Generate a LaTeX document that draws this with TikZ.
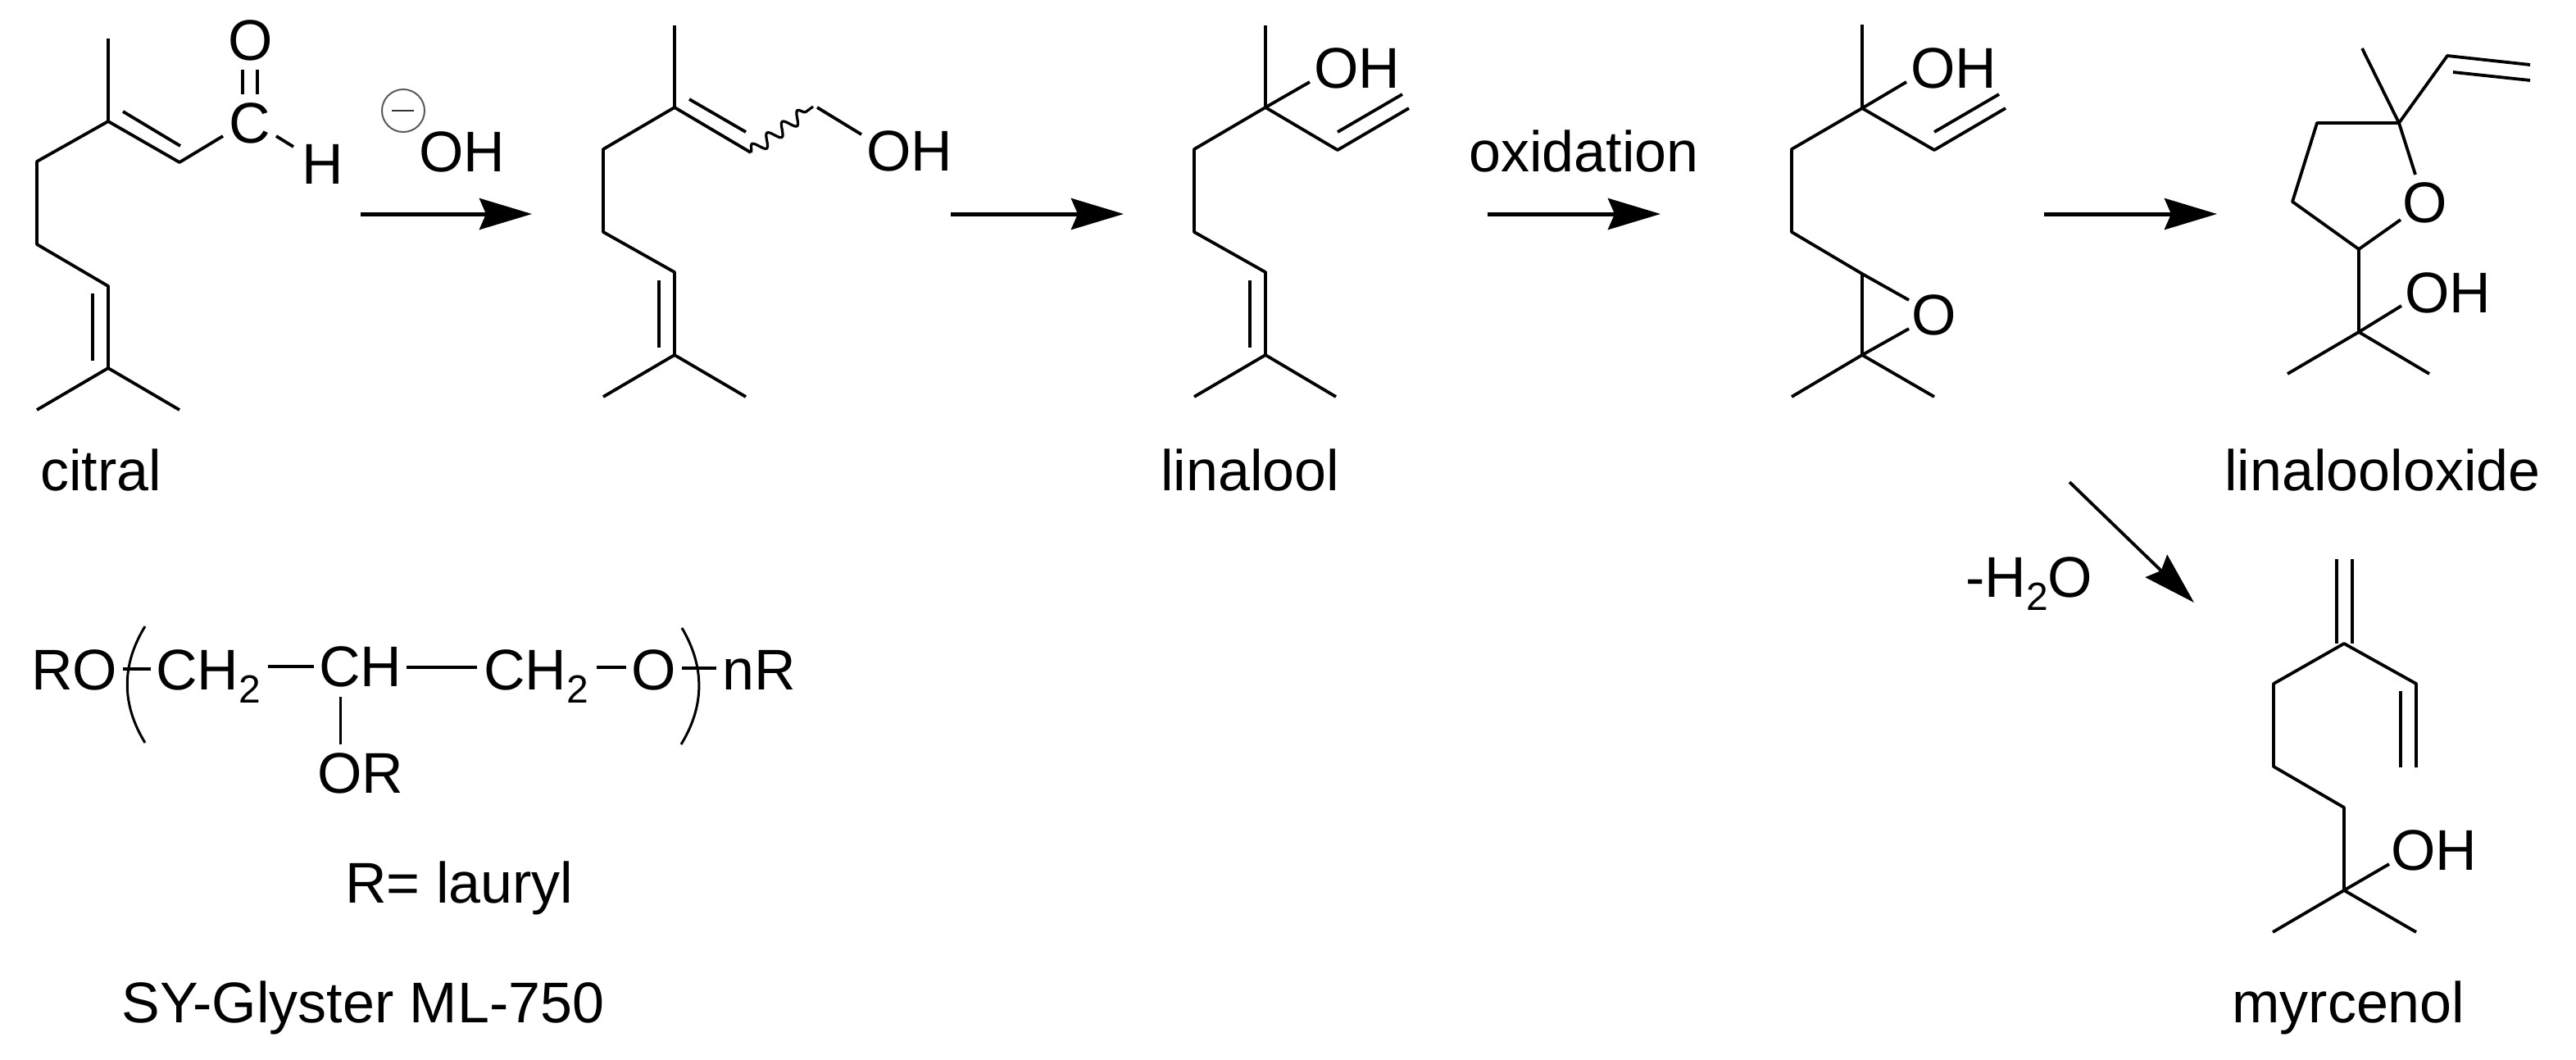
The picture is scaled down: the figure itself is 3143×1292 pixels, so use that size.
\documentclass[tikz,border=0pt]{standalone}
\usepackage{fontspec}
\setmainfont{Liberation Sans}
\usetikzlibrary{arrows.meta,decorations.pathmorphing}
\newcommand{\subtwo}{\raisebox{-8pt}{\fontsize{24}{24}\selectfont 2}}
\begin{document}
\begin{tikzpicture}[x=0.5pt,y=-0.5pt]
\tikzstyle{bond}=[line width=1.9pt,line join=round]
\tikzstyle{txt}=[inner sep=0pt,anchor=base west,font=\fontsize{35}{40}\selectfont]
\tikzstyle{react}=[line width=2.5pt,-{Stealth[length=32pt,width=19pt,inset=4pt]}]
\useasboundingbox (0,0) rectangle (3143,1292);
\foreach \n/\x/\y in {cit1/132/47,cit2/132/148,cit3/219/198,cit4/272/166,cit5/45/197,cit6/45/298,
    cit7/132/349,cit8/132/449,cit9/45/500,cit10/219/500,cit11/150/136,cit12/220/178,cit13/113/358,
    cit14/113/440,cit15/296/85,cit16/296/115,cit17/314/85,cit18/314/115,cit19/337/166,cit20/358/179}
  \coordinate (\n) at (\x,\y);
\node[txt] (citO) at (278,73) {O};
\node[txt] (citC) at (279,174) {C};
\node[txt] (citH) at (368,224) {H};
\draw[bond] (cit1) -- (cit2) -- (cit3) -- (cit4);
\draw[bond] (cit2) -- (cit5) -- (cit6) -- (cit7) -- (cit8) -- (cit9);
\draw[bond] (cit8) -- (cit10);
\draw[bond] (cit11) -- (cit12);
\draw[bond] (cit13) -- (cit14);
\draw[bond] (cit15) -- (cit16);
\draw[bond] (cit17) -- (cit18);
\draw[bond] (cit19) -- (cit20);
\node[txt] (citral) at (49,598) {citral};
\node[circle,draw=black!65,line width=1pt,minimum size=26pt,inner sep=0pt] (minus) at (492,135) {};
\coordinate (minus1) at (478,135);
\coordinate (minus2) at (505,135);
\draw[line width=1pt,black!80] (minus1) -- (minus2);
\node[txt] (hydroxide) at (511,209) {OH};
\coordinate (r1a) at (440,261);
\coordinate (r1b) at (649,261);
\draw[react] (r1a) -- (r1b);
\foreach \n/\x/\y in {eno1/823/31,eno2/823/131,eno3/916/186,eno4/992/130,eno5/997/131,eno6/1051/164,
    eno7/736/182,eno8/736/283,eno9/823/332,eno10/823/433,eno11/736/484,eno12/910/484,
    eno13/841/121,eno14/910/161,eno15/804/342,eno16/804/424}
  \coordinate (\n) at (\x,\y);
\draw[bond] (eno1) -- (eno2) -- (eno3);
\draw[bond] (eno2) -- (eno7) -- (eno8) -- (eno9) -- (eno10) -- (eno11);
\draw[bond] (eno10) -- (eno12);
\draw[bond] (eno13) -- (eno14);
\draw[bond] (eno15) -- (eno16);
\draw[bond] (eno5) -- (eno6);
\draw[line width=1.6pt,decorate,decoration={snake,amplitude=3.8pt,segment length=11.5pt}] (eno3) -- (eno4);
\node[txt] (enoOH) at (1057,208) {OH};
\coordinate (r2a) at (1160,261);
\coordinate (r2b) at (1371,261);
\draw[react] (r2a) -- (r2b);
\foreach \n/\x/\y in {lin1/1544/31,lin2/1544/131,lin3/1632/183,lin4/1719/132,lin5/1598/100,lin6/1457/182,
    lin7/1457/283,lin8/1544/332,lin9/1544/433,lin10/1457/484,lin11/1630/484,lin12/1632/161,lin13/1711/115,
    lin14/1525/342,lin15/1525/424}
  \coordinate (\n) at (\x,\y);
\draw[bond] (lin1) -- (lin2) -- (lin3) -- (lin4);
\draw[bond] (lin2) -- (lin5);
\draw[bond] (lin2) -- (lin6) -- (lin7) -- (lin8) -- (lin9) -- (lin10);
\draw[bond] (lin9) -- (lin11);
\draw[bond] (lin12) -- (lin13);
\draw[bond] (lin14) -- (lin15);
\node[txt] (linOH) at (1603,107) {OH};
\node[txt] (linalool) at (1416,598) {linalool};
\node[txt] (oxidation) at (1792,209) {oxidation};
\coordinate (r3a) at (1815,261);
\coordinate (r3b) at (2026,261);
\draw[react] (r3a) -- (r3b);
\foreach \n/\x/\y in {epo1/2272/30,epo2/2272/132,epo3/2360/183,epo4/2447/132,epo5/2326/100,epo6/2186/182,
    epo7/2186/283,epo8/2272/334,epo9/2272/433,epo10/2186/484,epo11/2360/484,epo12/2360/161,epo13/2439/115,
    epo14/2329/366,epo15/2329/401}
  \coordinate (\n) at (\x,\y);
\draw[bond] (epo1) -- (epo2) -- (epo3) -- (epo4);
\draw[bond] (epo2) -- (epo5);
\draw[bond] (epo2) -- (epo6) -- (epo7) -- (epo8) -- (epo9) -- (epo10);
\draw[bond] (epo9) -- (epo11);
\draw[bond] (epo12) -- (epo13);
\draw[bond] (epo8) -- (epo14);
\draw[bond] (epo9) -- (epo15);
\node[txt] (epoOH) at (2331,107) {OH};
\node[txt] (epoO) at (2332,408) {O};
\coordinate (r4a) at (2494,261);
\coordinate (r4b) at (2705,261);
\draw[react] (r4a) -- (r4b);
\foreach \n/\x/\y in {fur1/2927/150,fur2/2882/59,fur3/2986/68,fur4/3087/79,fur5/2993/88,fur6/3087/98,
    fur7/2827/150,fur8/2797/246,fur9/2878/304,fur10/2947/213,fur11/2929/268,fur12/2878/405,fur13/2930/373,
    fur14/2791/456,fur15/2964/456}
  \coordinate (\n) at (\x,\y);
\draw[bond] (fur2) -- (fur1) -- (fur3) -- (fur4);
\draw[bond] (fur5) -- (fur6);
\draw[bond] (fur10) -- (fur1) -- (fur7) -- (fur8) -- (fur9) -- (fur11);
\draw[bond] (fur9) -- (fur12) -- (fur13);
\draw[bond] (fur14) -- (fur12) -- (fur15);
\node[txt] (furO) at (2931,271) {O};
\node[txt] (furOH) at (2934,381) {OH};
\node[txt] (linalooloxide) at (2714,598) {linalooloxide};
\coordinate (r5a) at (2525,588);
\coordinate (r5b) at (2677,735);
\draw[react,line width=1.9pt] (r5a) -- (r5b);
\node[txt] (water) at (2398,728) {-H\subtwo O};
\foreach \n/\x/\y in {myr1/2851/682,myr2/2851/785,myr3/2870/682,myr4/2870/785,myr5/2860/785,myr6/2948/834,
    myr7/2948/936,myr8/2929/843,myr9/2929/936,myr10/2774/834,myr11/2774/935,myr12/2860/985,myr13/2860/1086,
    myr14/2773/1137,myr15/2948/1137,myr16/2915/1054}
  \coordinate (\n) at (\x,\y);
\draw[bond] (myr1) -- (myr2);
\draw[bond] (myr3) -- (myr4);
\draw[bond] (myr7) -- (myr6) -- (myr5) -- (myr10) -- (myr11) -- (myr12) -- (myr13) -- (myr14);
\draw[bond] (myr8) -- (myr9);
\draw[bond] (myr13) -- (myr15);
\draw[bond] (myr13) -- (myr16);
\node[txt] (myrOH) at (2917,1061) {OH};
\node[txt] (myrcenol) at (2723,1247) {myrcenol};
\foreach \n/\x/\y in {pol1/177/764,pol2/177/906,pol3a/148/811,pol3b/148/859,pol4/832/766,pol5/831/908,pol6a/860/813,pol6b/860/861,
    pol7/150/816,pol8/184/816,pol9/327/813,pol10/383/813,pol11/496/814,pol12/582/814,pol13/728/814,
    pol14/764/814,pol15/832/815,pol16/874/815,pol17/415/850,pol18/415/908}
  \coordinate (\n) at (\x,\y);
\draw[line width=1.5pt] (pol1) .. controls (pol3a) and (pol3b) .. (pol2);
\draw[line width=1.5pt] (pol4) .. controls (pol6a) and (pol6b) .. (pol5);
\draw[bond] (pol7) -- (pol8);
\draw[bond] (pol9) -- (pol10);
\draw[bond] (pol11) -- (pol12);
\draw[bond] (pol13) -- (pol14);
\draw[bond] (pol15) -- (pol16);
\draw[line width=1.5pt] (pol17) -- (pol18);
\node[txt] (polRO) at (38,841) {RO};
\node[txt] (polA) at (190,841) {CH\subtwo};
\node[txt] (polB) at (389,837) {CH};
\node[txt] (polC) at (590,841) {CH\subtwo};
\node[txt] (polO) at (770,841) {O};
\node[txt] (polR) at (881,841) {nR};
\node[txt] (polOR) at (387,967) {OR};
\node[txt] (lauryl) at (421,1101) {R= lauryl};
\node[txt] (glyster) at (148,1247) {SY-Glyster ML-750};
\end{tikzpicture}
\end{document}
